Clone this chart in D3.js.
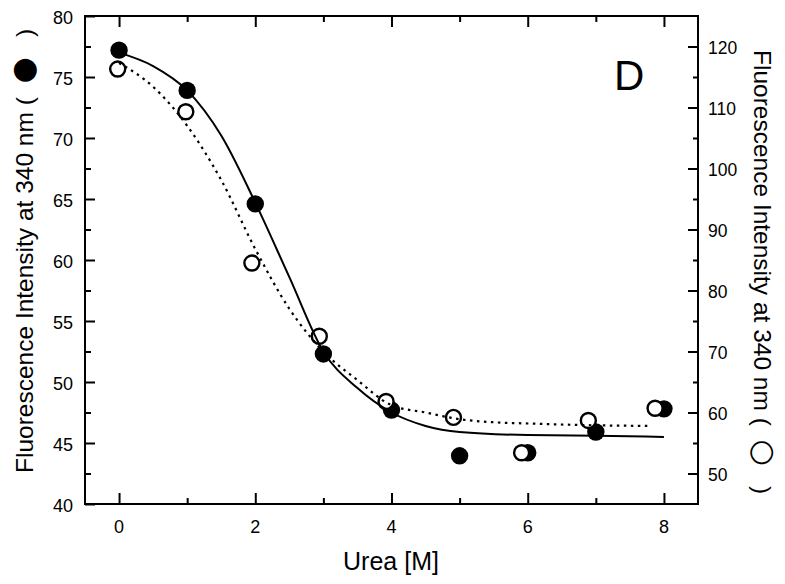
<!DOCTYPE html>
<html>
<head>
<meta charset="utf-8">
<script src="https://cdn.jsdelivr.net/npm/d3@7"></script>
<style>
  html, body { margin: 0; padding: 0; background: #fff; }
  svg { display: block; font-family: "Liberation Sans", Arial, sans-serif; }
  .ttl { white-space: pre; }
</style>
</head>
<body>
<svg id="chart" width="785" height="584"></svg>
<script>
// ---- data ----
const ureaFilled  = [0, 1, 2, 3, 4, 5, 6, 7, 8];
const fluorFilled = [77.2, 73.9, 64.6, 52.3, 47.7, 43.95, 44.2, 45.9, 47.8];

const ureaOpen  = [-0.02, 0.98, 1.95, 2.94, 3.92, 4.91, 5.91, 6.89, 7.87];
const fluorOpen = [116.3, 109.3, 84.5, 72.5, 61.8, 59.2, 53.4, 58.7, 60.7];

// fitted curves
const fitSolidX = [0, 0.5, 1, 1.5, 2, 2.5, 3, 3.5, 4, 4.5, 5, 6, 7, 8];
const fitSolidY = [77.0, 75.9, 73.9, 70.2, 64.7, 58.6, 52.5, 49.5, 47.5, 46.4, 45.9, 45.65, 45.6, 45.5];

const fitDotX = [0, 0.5, 1, 1.5, 2, 2.5, 3, 3.5, 4, 4.5, 5, 5.5, 6, 7, 7.8];
const fitDotY = [117.3, 113.4, 107.0, 98.1, 86.8, 77.0, 70.0, 65.3, 61.2, 60.0, 58.9, 58.4, 58.2, 57.9, 57.8];

const xTicksMajor = [0, 2, 4, 6, 8];
const xTicksMinor = [1, 3, 5, 7];
const yLeftMajor  = [40, 45, 50, 55, 60, 65, 70, 75, 80];
const yLeftMinor  = [42.5, 47.5, 52.5, 57.5, 62.5, 67.5, 72.5, 77.5];
const yRightMajor = [50, 60, 70, 80, 90, 100, 110, 120];
const yRightMinor = [55, 65, 75, 85, 95, 105, 115];

const xTitle = "Urea [M]";
const yTitleBase = "Fluorescence Intensity at 340 nm (  ";
const yLeftSymbol = "\u25CF";
const yRightSymbol = "\u25CB";
const yTitleEnd = "   )";
const panelLabel = "D";

// ---- layout ----
const L = 85, R = 698, T = 16, B = 504;
const svg = d3.select("#chart");

const x  = d3.scaleLinear().domain([-0.5, 8.5]).range([L, R]);
const yL = d3.scaleLinear().domain([40, 80]).range([B, T]);
const yR = d3.scaleLinear().domain([45, 125]).range([B, T]);

const major = 11, minor = 6;

function tickAxis(axisFn, scale, ticks, size) {
  return axisFn(scale).tickValues(ticks).tickSizeInner(size).tickSizeOuter(0).tickFormat(() => "");
}

// bottom
svg.append("g").attr("transform", `translate(0,${B})`).call(tickAxis(d3.axisTop, x, xTicksMinor, minor));
svg.append("g").attr("transform", `translate(0,${B})`).call(tickAxis(d3.axisTop, x, xTicksMajor, major));
// top
svg.append("g").attr("transform", `translate(0,${T})`).call(tickAxis(d3.axisBottom, x, xTicksMinor, minor));
svg.append("g").attr("transform", `translate(0,${T})`).call(tickAxis(d3.axisBottom, x, xTicksMajor, major));
// left
svg.append("g").attr("transform", `translate(${L},0)`).call(tickAxis(d3.axisRight, yL, yLeftMinor, minor));
svg.append("g").attr("transform", `translate(${L},0)`).call(tickAxis(d3.axisRight, yL, yLeftMajor, 10));
// right
svg.append("g").attr("transform", `translate(${R},0)`).call(tickAxis(d3.axisLeft, yR, yRightMinor, 5));
svg.append("g").attr("transform", `translate(${R},0)`).call(tickAxis(d3.axisLeft, yR, yRightMajor, 10));

svg.selectAll(".domain").remove();
svg.selectAll(".tick line").attr("stroke", "#000").attr("stroke-width", 2);
svg.selectAll(".tick text").remove();

// frame
svg.append("rect").attr("x", L).attr("y", T).attr("width", R - L).attr("height", B - T)
  .attr("fill", "none").attr("stroke", "#000").attr("stroke-width", 2);

// tick labels
svg.append("g").selectAll("text").data(xTicksMajor).join("text")
  .attr("x", d => x(d)).attr("y", 533).attr("text-anchor", "middle")
  .attr("font-size", 18).text(d => d);
svg.append("g").selectAll("text").data(yLeftMajor).join("text")
  .attr("x", 73).attr("y", d => yL(d)).attr("dy", "0.42em").attr("text-anchor", "end")
  .attr("font-size", 18).text(d => d);
svg.append("g").selectAll("text").data(yRightMajor).join("text")
  .attr("x", 708).attr("y", d => yR(d)).attr("dy", "0.45em").attr("text-anchor", "start")
  .attr("font-size", 17.5).text(d => d);

// titles
svg.append("text").attr("x", 391).attr("y", 570).attr("text-anchor", "middle")
  .attr("font-size", 25).text(xTitle);

function yTitle(transform, symbol, symSize) {
  const t = svg.append("text").attr("class", "ttl").attr("transform", transform)
    .attr("text-anchor", "start").attr("font-size", 24.5);
  t.append("tspan").text(yTitleBase);
  t.append("tspan").attr("font-family", "DejaVu Sans").attr("font-size", symSize).text(symbol);
  t.append("tspan").text(yTitleEnd);
}
yTitle("translate(33,473) rotate(-90)", yLeftSymbol, 30);
yTitle("translate(754,50) rotate(90)", yRightSymbol, 30);

svg.append("text").attr("x", 614).attr("y", 90).attr("font-size", 42).text(panelLabel);

// points
const filled = ureaFilled.map((u, i) => ({u, v: fluorFilled[i]}));
const open = ureaOpen.map((u, i) => ({u, v: fluorOpen[i]}));

svg.append("g").selectAll("circle").data(filled).join("circle")
  .attr("cx", d => x(d.u)).attr("cy", d => yL(d.v)).attr("r", 8.7).attr("fill", "#000");
svg.append("g").selectAll("circle").data(open).join("circle")
  .attr("cx", d => x(d.u)).attr("cy", d => yR(d.v)).attr("r", 7.5)
  .attr("fill", "#fff").attr("stroke", "#000").attr("stroke-width", 2.4);

// curves
const solid = fitSolidX.map((u, i) => [u, fitSolidY[i]]);
const dotted = fitDotX.map((u, i) => [u, fitDotY[i]]);
svg.append("path").datum(solid)
  .attr("d", d3.line().x(d => x(d[0])).y(d => yL(d[1])).curve(d3.curveMonotoneX))
  .attr("fill", "none").attr("stroke", "#000").attr("stroke-width", 2);
svg.append("path").datum(dotted)
  .attr("d", d3.line().x(d => x(d[0])).y(d => yR(d[1])).curve(d3.curveMonotoneX))
  .attr("fill", "none").attr("stroke", "#000").attr("stroke-width", 2.2)
  .attr("stroke-dasharray", "2.5,4.5");
</script>
</body>
</html>
